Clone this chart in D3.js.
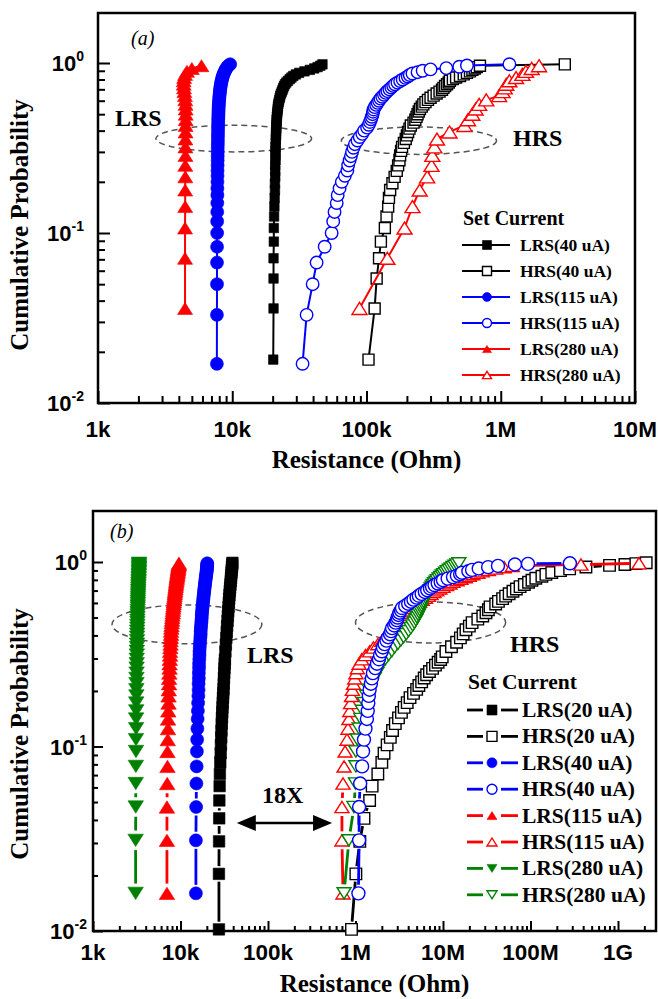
<!DOCTYPE html>
<html>
<head>
<meta charset="utf-8">
<script src="https://cdn.jsdelivr.net/npm/d3@7"></script>
<style>
  body { margin: 0; background: #fff; }
  svg { display: block; }
</style>
</head>
<body>
<svg id="chart" width="658" height="999"></svg>
<script>
// Resistance values in kOhm, paired with cumulative probability.

// ---- Panel (a) ----
const aLrs40 = [[20.2,.018],[20.3,.036],[20.3,.054],[20.3,.071],[20.4,.089],[20.4,.107],[20.5,.125],[20.6,.143],[20.7,.161],[20.8,.179],[20.8,.196],[20.9,.214],[20.9,.232],[20.9,.25],[21.0,.268],[21.0,.286],[21.0,.304],[21.0,.321],[21.1,.339],[21.1,.357],[21.2,.375],[21.2,.393],[21.3,.411],[21.3,.429],[21.4,.446],[21.4,.464],[21.5,.482],[21.6,.5],[21.7,.518],[21.8,.536],[21.9,.554],[22.0,.571],[22.2,.589],[22.4,.607],[22.6,.625],[22.8,.643],[23.1,.661],[23.4,.679],[23.7,.696],[24.0,.714],[24.3,.732],[24.7,.75],[25.3,.768],[26.0,.786],[26.8,.804],[27.6,.821],[28.5,.839],[29.8,.857],[31.5,.875],[34.5,.893],[37.8,.911],[40.8,.929],[43.2,.946],[45.3,.964],[47.0,.982]];
const aHrs40 = [[103.5,.018],[115,.036],[119,.054],[124,.071],[128,.089],[137,.107],[141,.125],[145,.143],[147,.161],[150,.179],[156,.196],[162,.214],[168,.232],[172,.25],[176,.268],[178,.286],[181,.304],[184,.321],[190,.339],[196,.357],[200,.375],[204,.393],[209,.411],[214,.429],[224,.446],[231,.464],[236,.482],[240,.5],[245,.518],[250,.536],[258,.554],[265,.571],[275,.589],[287,.607],[300,.625],[316,.643],[333,.661],[350,.679],[365,.696],[374,.714],[385,.732],[398,.75],[410,.768],[418,.786],[440,.804],[465,.821],[497,.839],[530,.857],[560,.875],[590,.893],[615,.911],[640,.929],[663,.946],[700,.964],[3000,.982]];
const aLrs115 = [[7.68,.017],[7.69,.033],[7.70,.05],[7.70,.067],[7.71,.083],[7.72,.1],[7.72,.117],[7.73,.133],[7.74,.15],[7.75,.167],[7.75,.183],[7.76,.2],[7.77,.217],[7.77,.233],[7.78,.25],[7.79,.267],[7.79,.283],[7.80,.3],[7.80,.317],[7.81,.333],[7.82,.35],[7.82,.367],[7.83,.383],[7.84,.4],[7.84,.417],[7.85,.433],[7.86,.45],[7.87,.467],[7.88,.483],[7.89,.5],[7.90,.517],[7.91,.533],[7.92,.55],[7.94,.567],[7.96,.583],[7.98,.6],[8.00,.617],[8.02,.633],[8.05,.65],[8.08,.667],[8.10,.683],[8.13,.7],[8.16,.717],[8.20,.733],[8.24,.75],[8.28,.767],[8.33,.783],[8.38,.8],[8.44,.817],[8.50,.833],[8.57,.85],[8.65,.867],[8.74,.883],[8.84,.9],[8.95,.917],[9.07,.933],[9.20,.95],[9.40,.967],[9.65,.983]];
const aHrs115 = [[33.4,.017],[35.8,.033],[39.7,.05],[42.5,.067],[48.8,.083],[55,.1],[56.5,.117],[57.8,.133],[60,.15],[61,.167],[63,.183],[65.5,.2],[69,.217],[72,.233],[73,.25],[74.8,.267],[76.5,.283],[78,.3],[80,.317],[82,.333],[85.7,.35],[89,.367],[93,.383],[96,.4],[101,.417],[104,.433],[106,.45],[108,.467],[109.5,.483],[111,.5],[112,.517],[113,.533],[115,.55],[118,.567],[121,.583],[124,.6],[127,.617],[131,.633],[135,.65],[139,.667],[143,.683],[148,.7],[153,.717],[158,.733],[163,.75],[170,.767],[178,.783],[186,.8],[195,.817],[203,.833],[210,.85],[220,.867],[240,.883],[262,.9],[300,.917],[393,.933],[491,.95],[560,.967],[1160,.983]];
const aLrs280 = [[4.45,.036],[4.45,.071],[4.45,.107],[4.46,.143],[4.46,.179],[4.47,.214],[4.47,.25],[4.48,.286],[4.48,.321],[4.48,.357],[4.49,.393],[4.49,.429],[4.5,.464],[4.5,.5],[4.5,.536],[4.49,.571],[4.47,.607],[4.44,.643],[4.4,.679],[4.37,.714],[4.35,.75],[4.35,.786],[4.38,.821],[4.45,.857],[4.6,.893],[5.0,.929],[5.9,.964]];
const aHrs280 = [[88.7,.036],[143,.071],[192,.107],[220,.143],[249,.179],[283,.214],[305,.25],[309,.286],[320,.321],[335,.357],[415,.393],[536,.429],[570,.464],[614,.5],[650,.536],[690,.571],[780,.607],[973,.643],[1030,.679],[1070,.714],[1100,.75],[1160,.786],[1300,.821],[1450,.857],[1540,.893],[1700,.929],[1930,.964]];

// ---- Panel (b) ----
const bLrs20 = [[27.5,.0102],[27.5,.0204],[27.6,.0306],[27.7,.0408],[27.8,.051],[28.0,.061],[28.2,.071],[28.5,.082],[28.8,.092],[29.0,.102],[29.2,.112],[29.4,.122],[29.6,.133],[29.8,.143],[30.0,.153],[30.2,.163],[30.4,.173],[30.6,.184],[30.8,.194],[31.0,.204],[31.2,.219],[31.4,.235],[31.6,.25],[31.8,.265],[32.0,.281],[32.2,.296],[32.6,.327],[33.0,.357],[33.4,.388],[33.8,.418],[34.1,.449],[34.5,.48],[34.8,.51],[35.1,.541],[35.4,.571],[35.7,.602],[36.0,.633],[36.3,.663],[36.6,.694],[36.9,.724],[37.2,.755],[37.5,.786],[37.8,.816],[38.0,.847],[38.3,.878],[38.5,.908],[38.8,.939],[39.0,.969],[39.2,.99]];
const bHrs20 = [[900,.0102],[1010,.0204],[1120,.0306],[1250,.0408],[1450,.051],[1550,.061],[1800,.071],[2000,.082],[2120,.092],[2300,.102],[2500,.112],[2650,.122],[2850,.133],[3100,.143],[3350,.153],[3600,.163],[3900,.173],[4200,.184],[4600,.194],[5000,.204],[5300,.214],[5700,.224],[6100,.235],[6500,.245],[7000,.255],[7600,.265],[8200,.276],[8800,.286],[9400,.296],[9800,.306],[10800,.327],[12500,.347],[14300,.367],[15800,.388],[17000,.408],[18300,.429],[20000,.449],[21500,.469],[25000,.49],[28500,.51],[31000,.531],[33000,.551],[34500,.571],[40000,.592],[43000,.612],[48000,.633],[52000,.653],[57000,.673],[63000,.694],[69000,.714],[76000,.735],[85000,.755],[95000,.776],[104000,.796],[115000,.816],[135000,.837],[150000,.857],[175000,.878],[220000,.898],[280000,.918],[430000,.939],[800000,.959],[1200000,.969],[1600000,.98],[2100000,.99]];
const bLrs40 = [[15.0,.016],[15.0,.031],[15.1,.047],[15.2,.063],[15.3,.078],[15.4,.094],[15.5,.109],[15.6,.125],[15.7,.141],[15.8,.156],[15.9,.172],[16.0,.188],[16.1,.203],[16.1,.219],[16.2,.234],[16.2,.25],[16.3,.266],[16.3,.281],[16.4,.297],[16.5,.313],[16.5,.328],[16.6,.344],[16.7,.359],[16.8,.375],[16.9,.391],[17.0,.406],[17.0,.422],[17.1,.438],[17.2,.453],[17.3,.469],[17.4,.484],[17.5,.5],[17.5,.516],[17.6,.531],[17.7,.547],[17.8,.563],[17.9,.578],[18.0,.594],[18.1,.609],[18.2,.625],[18.3,.641],[18.4,.656],[18.5,.672],[18.6,.688],[18.7,.703],[18.8,.719],[18.9,.734],[19.0,.75],[19.1,.766],[19.2,.781],[19.3,.797],[19.4,.813],[19.5,.828],[19.6,.844],[19.7,.859],[19.8,.875],[19.9,.891],[20.0,.906],[20.0,.922],[20.1,.938],[20.1,.953],[20.2,.969],[20.2,.984]];
const bHrs40 = [[1080,.016],[1100,.031],[1100,.047],[1130,.063],[1190,.078],[1220,.094],[1250,.109],[1300,.125],[1350,.141],[1380,.156],[1400,.172],[1420,.188],[1450,.203],[1500,.219],[1540,.234],[1580,.25],[1680,.266],[1760,.281],[1850,.297],[1910,.313],[2000,.328],[2060,.344],[2150,.359],[2260,.375],[2360,.391],[2480,.406],[2550,.422],[2620,.438],[2770,.453],[2870,.469],[2970,.484],[3030,.5],[3100,.516],[3180,.531],[3300,.547],[3400,.563],[3700,.578],[4000,.594],[4300,.609],[4600,.625],[5000,.641],[5300,.656],[5700,.672],[6200,.688],[6600,.703],[7100,.719],[7500,.734],[8000,.75],[8700,.766],[9400,.781],[10000,.797],[11300,.813],[13000,.828],[14400,.844],[15700,.859],[16500,.875],[19500,.891],[21500,.906],[25600,.922],[32800,.938],[42500,.953],[66400,.969],[93600,.977],[282000,.984]];
const bLrs115 = [[7.0,.016],[7.0,.031],[7.0,.047],[7.05,.063],[7.1,.078],[7.1,.094],[7.15,.109],[7.2,.125],[7.2,.141],[7.25,.156],[7.3,.172],[7.3,.188],[7.35,.203],[7.4,.219],[7.4,.234],[7.45,.25],[7.5,.266],[7.5,.281],[7.55,.297],[7.6,.313],[7.6,.328],[7.65,.344],[7.7,.359],[7.7,.375],[7.75,.391],[7.8,.406],[7.8,.422],[7.85,.438],[7.9,.453],[7.95,.469],[8.0,.484],[8.05,.5],[8.1,.516],[8.15,.531],[8.2,.547],[8.25,.563],[8.3,.578],[8.35,.594],[8.4,.609],[8.45,.625],[8.5,.641],[8.55,.656],[8.6,.672],[8.65,.688],[8.7,.703],[8.75,.719],[8.8,.734],[8.85,.75],[8.9,.766],[8.95,.781],[9.0,.797],[9.05,.813],[9.1,.828],[9.15,.844],[9.2,.859],[9.25,.875],[9.3,.891],[9.35,.906],[9.4,.922],[9.45,.938],[9.5,.953],[9.55,.969],[9.6,.984]];
const bHrs115 = [[720,.016],[700,.031],[700,.047],[720,.063],[740,.078],[760,.094],[800,.109],[820,.125],[840,.141],[860,.156],[880,.172],[900,.188],[920,.203],[950,.219],[980,.234],[1010,.25],[1050,.266],[1100,.281],[1180,.297],[1300,.313],[1450,.328],[1600,.344],[1800,.359],[2000,.375],[2200,.391],[2400,.406],[2550,.422],[2700,.438],[2850,.453],[3000,.469],[3200,.484],[3400,.5],[3600,.516],[3800,.531],[4000,.547],[4300,.563],[4600,.578],[5000,.594],[5400,.609],[5800,.625],[6300,.641],[6800,.656],[7300,.672],[7900,.688],[8500,.703],[9200,.719],[10000,.734],[11000,.75],[12000,.766],[13000,.781],[14500,.797],[16000,.813],[18000,.828],[20000,.844],[22000,.859],[25000,.875],[28000,.891],[33000,.906],[40000,.922],[50000,.938],[62000,.953],[377000,.969],[1740000,.984]];
const bLrs280 = [[3.07,.016],[3.07,.031],[3.08,.047],[3.08,.063],[3.09,.078],[3.1,.094],[3.1,.109],[3.11,.125],[3.11,.141],[3.12,.156],[3.12,.172],[3.13,.188],[3.13,.203],[3.14,.219],[3.14,.234],[3.15,.25],[3.15,.266],[3.16,.281],[3.16,.297],[3.17,.313],[3.17,.328],[3.18,.344],[3.18,.359],[3.19,.375],[3.19,.391],[3.2,.406],[3.2,.422],[3.21,.438],[3.21,.453],[3.22,.469],[3.22,.484],[3.23,.5],[3.23,.516],[3.24,.531],[3.24,.547],[3.25,.563],[3.25,.578],[3.26,.594],[3.26,.609],[3.27,.625],[3.27,.641],[3.28,.656],[3.28,.672],[3.29,.688],[3.29,.703],[3.3,.719],[3.3,.734],[3.31,.75],[3.31,.766],[3.32,.781],[3.32,.797],[3.33,.813],[3.33,.828],[3.34,.844],[3.34,.859],[3.35,.875],[3.35,.891],[3.35,.906],[3.36,.922],[3.36,.938],[3.36,.953],[3.36,.969],[3.36,.984]];
const bHrs280 = [[740,.016],[840,.031],[960,.047],[1000,.063],[1010,.078],[1010,.094],[1050,.109],[1100,.125],[1150,.141],[1200,.156],[1260,.172],[1340,.188],[1430,.203],[1530,.219],[1640,.234],[1760,.25],[1850,.266],[2000,.281],[2200,.297],[2400,.313],[2600,.328],[2800,.344],[3050,.359],[3300,.375],[3550,.391],[3800,.406],[4050,.422],[4300,.438],[4500,.453],[4700,.469],[4900,.484],[5050,.5],[5200,.516],[5350,.531],[5450,.547],[5600,.563],[5700,.578],[5850,.594],[6000,.609],[6150,.625],[6300,.641],[6500,.656],[6700,.672],[6900,.688],[7100,.703],[7300,.719],[7500,.734],[7700,.75],[8000,.766],[8300,.781],[8600,.797],[9000,.813],[9400,.828],[9800,.844],[10200,.859],[10700,.875],[11200,.891],[11800,.906],[12400,.922],[13000,.938],[13700,.953],[14400,.969],[15200,.984]];

// ---- Axis ticks and labels ----
const aXTicks = [1, 10, 100, 1000, 10000];
const aXTickLabels = ["1k", "10k", "100k", "1M", "10M"];
const bXTicks = [1, 10, 100, 1000, 10000, 100000, 1000000];
const bXTickLabels = ["1k", "10k", "100k", "1M", "10M", "100M", "1G"];
const yTicks = [1, 0.1, 0.01];
const yTickExponents = ["0", "-1", "-2"];

// ---- Legend entries ----
const aLegendNames = ["LRS(40 uA)", "HRS(40 uA)", "LRS(115 uA)", "HRS(115 uA)", "LRS(280 uA)", "HRS(280 uA)"];
const bLegendNames = ["LRS(20 uA)", "HRS(20 uA)", "LRS(40 uA)", "HRS(40 uA)", "LRS(115 uA)", "HRS(115 uA)", "LRS(280 uA)", "HRS(280 uA)"];

const SERIF = '"Liberation Serif","Times New Roman",Times,serif';
const SANS = '"Liberation Sans",Arial,Helvetica,sans-serif';
const BLACK = "#000000", BLUE = "#0000ff", RED = "#ff0000", GREEN = "#008000";

const svg = d3.select("#chart");

function symbolPath(shape, s) {
  const h = s / 2;
  const th = s * 0.8 / 2;
  switch (shape) {
    case "square": return `M${-h},${-h}H${h}V${h}H${-h}Z`;
    case "circle": return `M${-h},0A${h},${h},0,1,0,${h},0A${h},${h},0,1,0,${-h},0Z`;
    case "up": return `M0,${-th}L${h},${th}L${-h},${th}Z`;
    case "down": return `M0,${th}L${h},${-th}L${-h},${-th}Z`;
  }
}

function drawMarker(g, cx, cy, st, size) {
  g.append("path")
    .attr("transform", `translate(${cx},${cy})`)
    .attr("d", symbolPath(st.shape, size))
    .attr("fill", st.filled ? st.color : "#fff")
    .attr("stroke", st.color)
    .attr("stroke-width", st.filled ? 0.6 : 1.4);
}

function drawSeries(g, x, y, st, lineWidth, gap) {
  const pts = st.data.map(d => [x(d[0]), y(d[1])]);
  if (!gap) {
    g.append("path")
      .attr("d", d3.line()(pts))
      .attr("fill", "none")
      .attr("stroke", st.color)
      .attr("stroke-width", lineWidth)
      .attr("stroke-linejoin", "round");
  } else {
    // line pieces stop short of each symbol
    const gs = g.append("g").attr("stroke", st.color).attr("stroke-width", lineWidth);
    for (let i = 1; i < pts.length; i++) {
      const [x1, y1] = pts[i - 1], [x2, y2] = pts[i];
      const len = Math.hypot(x2 - x1, y2 - y1);
      if (len <= 2 * gap + 1) continue;
      const ux = (x2 - x1) / len, uy = (y2 - y1) / len;
      gs.append("line")
        .attr("x1", x1 + ux * gap).attr("y1", y1 + uy * gap)
        .attr("x2", x2 - ux * gap).attr("y2", y2 - uy * gap);
    }
  }
  const mg = g.append("g");
  pts.forEach(p => drawMarker(mg, p[0], p[1], st, st.size));
}

function minorValues(majors, extraTop) {
  const out = [];
  const list = majors.slice();
  if (extraTop) list.push(majors[majors.length - 1] * 10);
  for (let i = 0; i < list.length - 1; i++) {
    for (let k = 2; k <= 9; k++) out.push(list[i] * k);
  }
  return out;
}

function drawPanel(cfg) {
  const g = svg.append("g");
  const x = d3.scaleLog().domain(cfg.xDomain).range(cfg.xRange);
  const y = d3.scaleLog().domain([0.01, 1]).range(cfg.yRange);
  const box = cfg.box;

  // ticks (pointing into the plot)
  const tickStyle = sel => {
    sel.select(".domain").remove();
    sel.selectAll("line").attr("stroke", "#000").attr("stroke-width", 2);
    sel.selectAll("text").remove();
  };
  g.append("g").attr("transform", `translate(0,${box.b})`)
    .call(d3.axisBottom(x).tickValues(cfg.xTicks).tickSize(-cfg.majorLen).tickFormat(""))
    .call(tickStyle);
  const xMinor = minorValues(cfg.xTicks, true).filter(v => x(v) < box.r - 1);
  g.append("g").attr("transform", `translate(0,${box.b})`)
    .call(d3.axisBottom(x).tickValues(xMinor).tickSize(-cfg.minorLen).tickFormat(""))
    .call(tickStyle);
  g.append("g").attr("transform", `translate(${box.l},0)`)
    .call(d3.axisLeft(y).tickValues(yTicks).tickSize(-cfg.majorLen).tickFormat(""))
    .call(tickStyle);
  g.append("g").attr("transform", `translate(${box.l},0)`)
    .call(d3.axisLeft(y).tickValues(minorValues([0.01, 0.1, 1], false)).tickSize(-cfg.minorLen).tickFormat(""))
    .call(tickStyle);

  // frame
  g.append("rect")
    .attr("x", box.l).attr("y", box.t)
    .attr("width", box.r - box.l).attr("height", box.b - box.t)
    .attr("fill", "none").attr("stroke", "#000").attr("stroke-width", 2.5);

  // tick labels
  cfg.xTicks.forEach((v, i) => {
    g.append("text")
      .attr("x", x(v)).attr("y", cfg.xLabelY)
      .attr("text-anchor", "middle")
      .style("font-family", SANS).style("font-weight", "bold").style("font-size", "22.5px")
      .text(cfg.xTickLabels[i]);
  });
  yTicks.forEach((v, i) => {
    const t = g.append("text")
      .attr("x", cfg.yLabelX).attr("y", y(v) + 8)
      .attr("text-anchor", "end")
      .style("font-family", SANS).style("font-weight", "bold").style("font-size", "22px");
    t.append("tspan").text("10");
    t.append("tspan").attr("dy", -10).style("font-size", "14px").text(yTickExponents[i]);
  });

  // axis titles
  g.append("text")
    .attr("x", (box.l + box.r) / 2).attr("y", cfg.xTitleY)
    .attr("text-anchor", "middle")
    .style("font-family", SERIF).style("font-weight", "bold").style("font-size", "25px")
    .text("Resistance (Ohm)");
  g.append("text")
    .attr("transform", `translate(${cfg.yTitleX},${cfg.yTitleCY}) rotate(-90)`)
    .attr("text-anchor", "middle")
    .style("font-family", SERIF).style("font-weight", "bold").style("font-size", "25px")
    .text("Cumulative Probability");

  // panel tag
  g.append("text")
    .attr("x", cfg.tag.x).attr("y", cfg.tag.y)
    .style("font-family", SERIF).style("font-style", "italic").style("font-size", "20px")
    .text(cfg.tag.text);

  // dashed ellipses around the two groups
  cfg.ellipses.forEach(e => {
    const x0 = x(e.r[0]), x1 = x(e.r[1]), y0 = y(e.p[0]), y1 = y(e.p[1]);
    g.append("ellipse")
      .attr("cx", (x0 + x1) / 2).attr("cy", (y0 + y1) / 2)
      .attr("rx", Math.abs(x1 - x0) / 2).attr("ry", Math.abs(y1 - y0) / 2)
      .attr("fill", "none").attr("stroke", "#555").attr("stroke-width", 1.5)
      .attr("stroke-dasharray", "6,4");
  });

  // data
  cfg.drawOrder.forEach(st => drawSeries(g, x, y, st, cfg.lineWidth, cfg.gap ? st.size / 2 + 2 : 0));

  // annotations
  cfg.notes.forEach(n => {
    g.append("text").attr("x", n.x).attr("y", n.y)
      .style("font-family", SERIF).style("font-weight", "bold").style("font-size", "24px")
      .text(n.text);
  });

  // legend
  const L = cfg.legend;
  g.append("text").attr("x", L.titleX).attr("y", L.titleY)
    .style("font-family", SERIF).style("font-weight", "bold").style("font-size", L.titleSize + "px")
    .text("Set Current");
  L.items.forEach((st, i) => {
    const cy = L.firstY + i * L.step;
    if (L.split) {
      g.append("line").attr("x1", L.lineX0).attr("x2", L.markX - L.mSize / 2 - 4).attr("y1", cy).attr("y2", cy)
        .attr("stroke", st.color).attr("stroke-width", cfg.lineWidth);
      g.append("line").attr("x1", L.markX + L.mSize / 2 + 4).attr("x2", L.lineX1).attr("y1", cy).attr("y2", cy)
        .attr("stroke", st.color).attr("stroke-width", cfg.lineWidth);
    } else {
      g.append("line").attr("x1", L.lineX0).attr("x2", L.lineX1).attr("y1", cy).attr("y2", cy)
        .attr("stroke", st.color).attr("stroke-width", cfg.lineWidth);
    }
    drawMarker(g, L.markX, cy, st, L.mSize);
    g.append("text").attr("x", L.textX).attr("y", cy + L.textDy)
      .style("font-family", SERIF).style("font-weight", "bold").style("font-size", L.textSize + "px")
      .text(L.names[i]);
  });

  return { g, x, y };
}

// ---------- Panel (a) ----------
const aS = {
  lrs40:  { data: aLrs40,  color: BLACK, shape: "square", filled: true,  size: 9.5 },
  hrs40:  { data: aHrs40,  color: BLACK, shape: "square", filled: false, size: 11 },
  lrs115: { data: aLrs115, color: BLUE,  shape: "circle", filled: true,  size: 13 },
  hrs115: { data: aHrs115, color: BLUE,  shape: "circle", filled: false, size: 12.5 },
  lrs280: { data: aLrs280, color: RED,   shape: "up",     filled: true,  size: 15 },
  hrs280: { data: aHrs280, color: RED,   shape: "up",     filled: false, size: 15 }
};
drawPanel({
  box: { l: 98, r: 635, t: 13, b: 403 },
  xDomain: [1, 10000], xRange: [98, 635],
  yRange: [403, 63],
  xTicks: aXTicks, xTickLabels: aXTickLabels,
  majorLen: 12, minorLen: 7,
  xLabelY: 437, yLabelX: 84,
  xTitleY: 468, yTitleX: 28, yTitleCY: 225,
  tag: { x: 131, y: 45, text: "(a)" },
  lineWidth: 2, gap: false,
  ellipses: [
    { r: [2.7, 39], p: [0.43, 0.30] },
    { r: [65, 930], p: [0.42, 0.29] }
  ],
  drawOrder: [aS.lrs40, aS.hrs40, aS.lrs115, aS.hrs115, aS.lrs280, aS.hrs280],
  notes: [ { x: 115, y: 126, text: "LRS" }, { x: 513, y: 146, text: "HRS" } ],
  legend: {
    titleX: 463, titleY: 225, titleSize: 20,
    items: [aS.lrs40, aS.hrs40, aS.lrs115, aS.hrs115, aS.lrs280, aS.hrs280],
    names: aLegendNames,
    firstY: 245, step: 26, lineX0: 462, lineX1: 510, markX: 487, mSize: 9,
    textX: 520, textDy: 6, textSize: 17.5, split: false
  }
});

// ---------- Panel (b) ----------
const bS = {
  lrs20:  { data: bLrs20,  color: BLACK, shape: "square", filled: true,  size: 11.5 },
  hrs20:  { data: bHrs20,  color: BLACK, shape: "square", filled: false, size: 11.5 },
  lrs40:  { data: bLrs40,  color: BLUE,  shape: "circle", filled: true,  size: 13 },
  hrs40:  { data: bHrs40,  color: BLUE,  shape: "circle", filled: false, size: 13 },
  lrs115: { data: bLrs115, color: RED,   shape: "up",     filled: true,  size: 15.5 },
  hrs115: { data: bHrs115, color: RED,   shape: "up",     filled: false, size: 14 },
  lrs280: { data: bLrs280, color: GREEN, shape: "down",   filled: true,  size: 15.5 },
  hrs280: { data: bHrs280, color: GREEN, shape: "down",   filled: false, size: 14 }
};
const pb = drawPanel({
  box: { l: 93, r: 656, t: 511, b: 931 },
  xDomain: [1, 1000000], xRange: [93, 618],
  yRange: [931, 562],
  xTicks: bXTicks, xTickLabels: bXTickLabels,
  majorLen: 10, minorLen: 5,
  xLabelY: 960, yLabelX: 87,
  xTitleY: 992, yTitleX: 28, yTitleCY: 734,
  tag: { x: 110, y: 538, text: "(b)" },
  lineWidth: 2.8, gap: true,
  ellipses: [
    { r: [1.65, 85], p: [0.585, 0.36] },
    { r: [1000, 52000], p: [0.607, 0.364] }
  ],
  drawOrder: [bS.lrs20, bS.hrs20, bS.lrs115, bS.hrs115, bS.lrs280, bS.hrs280, bS.lrs40, bS.hrs40],
  notes: [ { x: 247, y: 663, text: "LRS" }, { x: 510, y: 652, text: "HRS" }, { x: 262, y: 803, text: "18X" } ],
  legend: {
    titleX: 468, titleY: 689, titleSize: 21.5,
    items: [bS.lrs20, bS.hrs20, bS.lrs40, bS.hrs40, bS.lrs115, bS.hrs115, bS.lrs280, bS.hrs280],
    names: bLegendNames,
    firstY: 710, step: 26.4, lineX0: 467, lineX1: 518, markX: 492, mSize: 10,
    textX: 522, textDy: 7, textSize: 21.5, split: true
  }
});

// double-headed arrow marking the LRS/HRS window
const arrowEnds = [44, 540];   // kOhm
const arrowProb = 0.0385;
(function () {
  const ax0 = pb.x(arrowEnds[0]), ax1 = pb.x(arrowEnds[1]), ay = pb.y(arrowProb);
  const headL = 19, headW = 8;
  pb.g.append("line")
    .attr("x1", ax0 + headL - 2).attr("x2", ax1 - headL + 2).attr("y1", ay).attr("y2", ay)
    .attr("stroke", "#000").attr("stroke-width", 2.5);
  pb.g.append("path")
    .attr("d", `M${ax0},${ay}L${ax0 + headL},${ay - headW}L${ax0 + headL},${ay + headW}Z`)
    .attr("fill", "#000");
  pb.g.append("path")
    .attr("d", `M${ax1},${ay}L${ax1 - headL},${ay - headW}L${ax1 - headL},${ay + headW}Z`)
    .attr("fill", "#000");
})();
</script>
</body>
</html>
